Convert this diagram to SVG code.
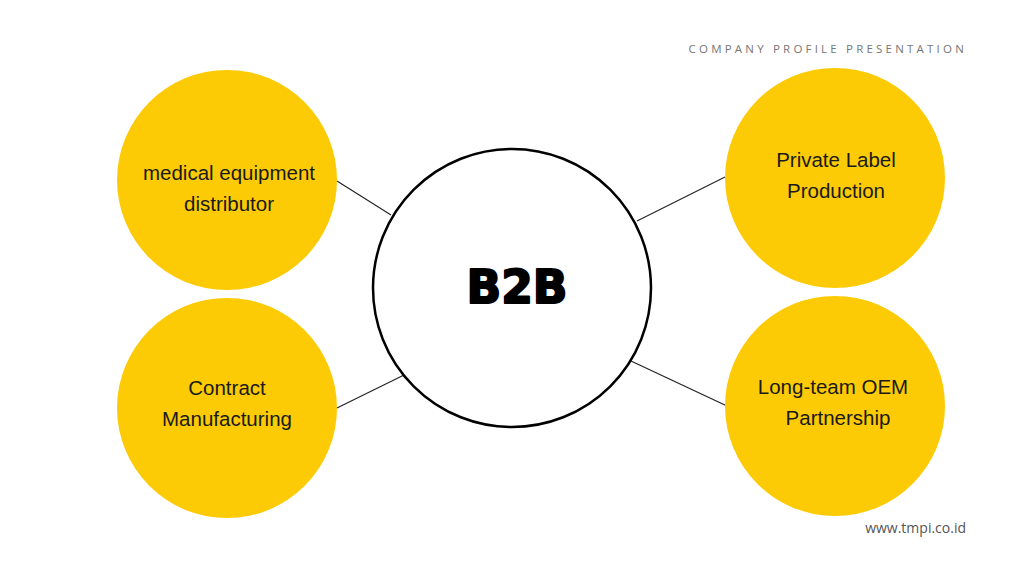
<svg xmlns="http://www.w3.org/2000/svg" width="1024" height="576" viewBox="0 0 1024 576">
<style>
.y{fill:#FCCB06}
.lbl{font-family:"Liberation Sans",Arial,sans-serif;font-size:20.5px;fill:#1a1a1a;text-anchor:middle}
.con{stroke:#222;stroke-width:1.2;fill:none}
</style>
<rect width="1024" height="576" fill="#ffffff"/>
<text x="967" y="53" font-family="'Open Sans','Liberation Sans',sans-serif" font-size="11.5" fill="#777" letter-spacing="3.2" text-anchor="end">COMPANY PROFILE PRESENTATION</text>
<g id="connectors">
<line class="con" x1="337" y1="181" x2="391" y2="215"/>
<line class="con" x1="337" y1="408" x2="404" y2="375"/>
<line class="con" x1="637" y1="221" x2="725" y2="177"/>
<line class="con" x1="631" y1="361" x2="727" y2="406"/>
</g>
<g id="n-medical">
<circle class="y" cx="227" cy="180" r="110"/>
<text class="lbl" x="229" y="180">medical equipment</text>
<text class="lbl" x="229" y="211">distributor</text>
</g>
<g id="n-contract">
<circle class="y" cx="227" cy="408" r="110"/>
<text class="lbl" x="227" y="395">Contract</text>
<text class="lbl" x="227" y="426">Manufacturing</text>
</g>
<g id="n-private">
<circle class="y" cx="835" cy="178" r="110"/>
<text class="lbl" x="836" y="167">Private Label</text>
<text class="lbl" x="836" y="198">Production</text>
</g>
<g id="n-oem">
<circle class="y" cx="835" cy="406" r="110"/>
<text class="lbl" x="833" y="394">Long-team OEM</text>
<text class="lbl" x="838" y="425">Partnership</text>
</g>
<g id="n-b2b">
<circle cx="512" cy="288" r="139" fill="#fff" stroke="#000" stroke-width="2.5"/>
<text x="517" y="303" font-family="'DejaVu Sans','Liberation Sans',sans-serif" font-weight="900" font-size="46" fill="#000" stroke="#000" stroke-width="2" stroke-linejoin="round" text-anchor="middle" textLength="101" lengthAdjust="spacingAndGlyphs">B2B</text>
</g>
<text x="966" y="533" font-family="'Open Sans','Liberation Sans',sans-serif" font-size="14" fill="#555" text-anchor="end">www.tmpi.co.id</text>
</svg>
